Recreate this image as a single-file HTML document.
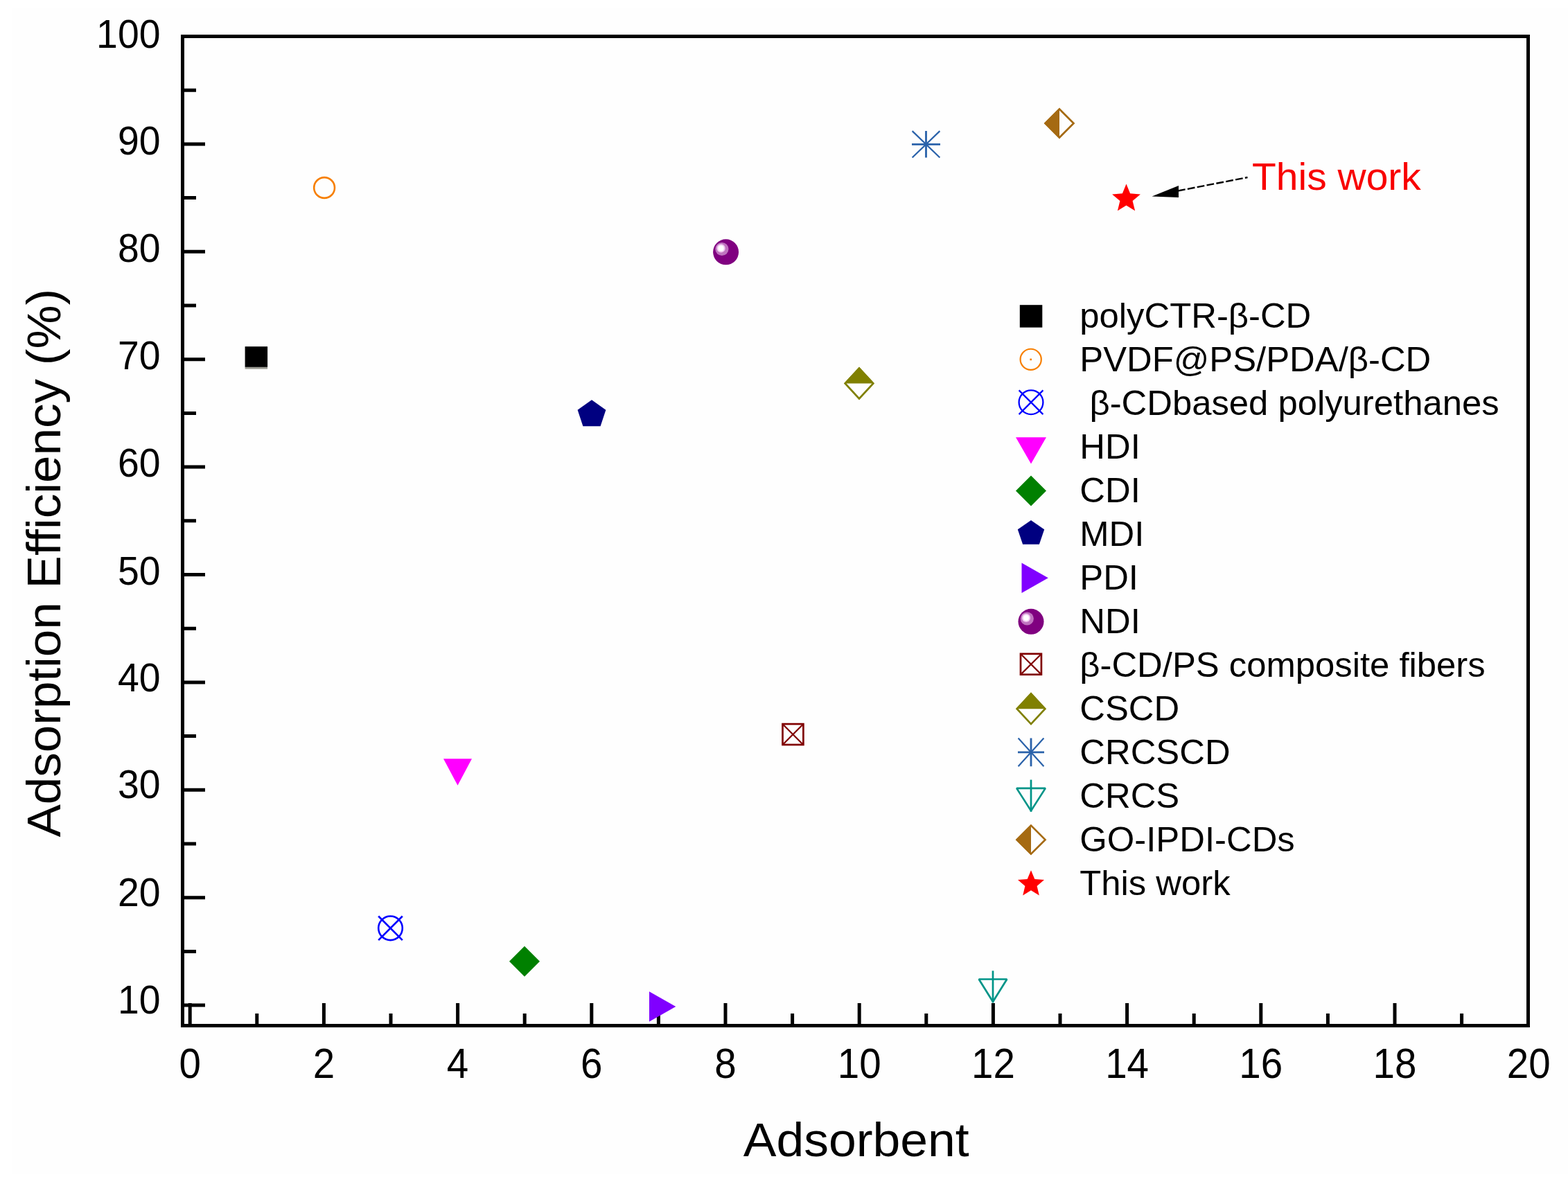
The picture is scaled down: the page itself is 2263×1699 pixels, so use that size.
<!DOCTYPE html><html><head><meta charset="utf-8"><style>html,body{margin:0;padding:0;background:#fff;}svg{display:block;}</style></head><body>
<svg width="2263" height="1699" viewBox="0 0 2263 1699">
<rect x="0" y="0" width="2263" height="1699" fill="#ffffff"/>
<rect x="18" y="11" width="2245" height="1683" fill="#fefefe"/>
<rect x="263.5" y="52.5" width="1942" height="1428" fill="none" stroke="#000" stroke-width="5"/>
<path d="M274.2 1478V1448 M370.8 1478V1463 M467.4 1478V1448 M564.0 1478V1463 M660.6 1478V1448 M757.2 1478V1463 M853.8 1478V1448 M950.4 1478V1463 M1047.0 1478V1448 M1143.6 1478V1463 M1240.2 1478V1448 M1336.8 1478V1463 M1433.4 1478V1448 M1530.0 1478V1463 M1626.6 1478V1448 M1723.2 1478V1463 M1819.8 1478V1448 M1916.4 1478V1463 M2013.0 1478V1448 M2109.6 1478V1463 M266 1451.1H296 M266 1373.4H283 M266 1295.7H296 M266 1218.0H283 M266 1140.3H296 M266 1062.6H283 M266 984.9H296 M266 907.2H283 M266 829.5H296 M266 751.8H283 M266 674.1H296 M266 596.4H283 M266 518.7H296 M266 441.0H283 M266 363.3H296 M266 285.6H283 M266 207.9H296 M266 130.2H283" stroke="#000" stroke-width="5" fill="none"/>
<g font-family="'Liberation Sans', Arial, sans-serif" font-size="58" fill="#000" text-anchor="end">
<text transform="translate(231.5 1462.9) scale(0.955 1)">10</text>
<text transform="translate(231.5 1308.2) scale(0.955 1)">20</text>
<text transform="translate(231.5 1152.3) scale(0.955 1)">30</text>
<text transform="translate(231.5 998.2) scale(0.955 1)">40</text>
<text transform="translate(231.5 843.7) scale(0.955 1)">50</text>
<text transform="translate(231.5 688.1) scale(0.955 1)">60</text>
<text transform="translate(231.5 533.2) scale(0.955 1)">70</text>
<text transform="translate(231.5 378.1) scale(0.955 1)">80</text>
<text transform="translate(231.5 223.2) scale(0.955 1)">90</text>
<text transform="translate(231.5 68.5) scale(0.955 1)">100</text>
</g>
<g font-family="'Liberation Sans', Arial, sans-serif" font-size="60.5" fill="#000" text-anchor="middle">
<text transform="translate(274.2 1555.8) scale(0.935 1)">0</text>
<text transform="translate(467.4 1555.8) scale(0.935 1)">2</text>
<text transform="translate(660.6 1555.8) scale(0.935 1)">4</text>
<text transform="translate(853.8 1555.8) scale(0.935 1)">6</text>
<text transform="translate(1047.0 1555.8) scale(0.935 1)">8</text>
<text transform="translate(1240.2 1555.8) scale(0.935 1)">10</text>
<text transform="translate(1433.4 1555.8) scale(0.935 1)">12</text>
<text transform="translate(1626.6 1555.8) scale(0.935 1)">14</text>
<text transform="translate(1819.8 1555.8) scale(0.935 1)">16</text>
<text transform="translate(2013.0 1555.8) scale(0.935 1)">18</text>
<text transform="translate(2206.2 1555.8) scale(0.935 1)">20</text>
</g>
<text font-family="'Liberation Sans', Arial, sans-serif" font-size="71.5" transform="translate(1235.7 1668.7) scale(1 0.96)" text-anchor="middle">Adsorbent</text>
<text font-family="'Liberation Sans', Arial, sans-serif" font-size="71" transform="translate(86.5 812.7) rotate(-90) scale(1 0.96)" text-anchor="middle">Adsorption Efficiency (%)</text>
<rect x="353.6" y="500.2" width="32.5" height="29.7" fill="#000"/><rect x="353.6" y="529.9" width="32.5" height="2.8" fill="#9a9a92"/>
<circle cx="468.1" cy="271" r="14.9" fill="none" stroke="#f77f00" stroke-width="2.6"/>
<g stroke="#0000ff" stroke-width="2.6" fill="none"><circle cx="563.5" cy="1339.8" r="17.3"/><path d="M546.2 1322.5L580.8 1357.1M580.8 1322.5L546.2 1357.1"/></g>
<path d="M640.0 1095.2H681.0L660.5 1133.8Z" fill="#ff00ff"/>
<path d="M735 1387.7L757 1365.7L779 1387.7L757 1409.7Z" fill="#008000"/>
<polygon points="854.0,577.3 874.4,591.8 866.6,615.2 841.4,615.2 833.6,591.8" fill="#000080"/>
<path d="M937.0 1431.2L975.3 1453L937.0 1474.8Z" fill="#8000ff"/>
<circle cx="1047.6" cy="363.8" r="18.5" fill="#800080"/><circle cx="1041.9" cy="359.5" r="9.6" fill="#bf74bf"/><circle cx="1040.6" cy="358.4" r="6.1" fill="#f0c8f0"/><circle cx="1040.6" cy="358.4" r="4.1" fill="#ffffff"/>
<g stroke="#800000" stroke-width="2.7" fill="none"><rect x="1129.5" y="1045.1" width="29.9" height="29.9"/><path d="M1130.8000000000002 1046.5L1158.0 1073.6999999999998M1158.0 1046.5L1130.8000000000002 1073.6999999999998" stroke-width="2.2"/></g>
<path d="M1218.2 553.5L1240 530.1L1261.8 553.5Z" fill="#808000"/><path d="M1219.7 553.5L1240 531.6L1260.3 553.5L1240 575.4Z" fill="none" stroke="#808000" stroke-width="2.7"/>
<g stroke="#2a62aa" fill="none"><path d="M1316.0 208.3H1357.0M1336.5 189.10000000000002V227.5" stroke-width="2.8"/><path d="M1316.615 189.10000000000002L1356.385 227.5M1356.385 189.10000000000002L1316.615 227.5" stroke-width="2.2"/></g>
<g stroke="#009488" fill="none" stroke-width="2.7"><path d="M1412.75 1413.5H1453.25L1433 1446.0Z" stroke-linejoin="bevel"/><path d="M1433 1401.3V1447.5"/></g>
<path d="M1529 156L1507 178L1529 200Z" fill="#a56a12"/><path d="M1508.5 178L1529 157.5L1549.5 178L1529 198.5Z" fill="none" stroke="#a56a12" stroke-width="2.7"/>
<polygon points="1625.5,265.6 1631.1,279.2 1645.9,280.4 1634.6,290.0 1638.1,304.3 1625.5,296.6 1612.9,304.3 1616.4,290.0 1605.1,280.4 1619.9,279.2" fill="#ff0000"/>
<path d="M1700 275.5L1800.5 256" stroke="#000" stroke-width="2.4" stroke-dasharray="10.8 3.3"/>
<path d="M1662.5 283.5L1701 268L1701 285Z" fill="#000"/>
<text font-family="'Liberation Sans', Arial, sans-serif" font-size="57" fill="#f80000" transform="translate(1807 273.9) scale(1 0.97)">This work</text>
<rect x="1471.8" y="440.2" width="32.5" height="32.5" fill="#000"/>
<text font-family="'Liberation Sans', Arial, sans-serif" font-size="50.8" x="1558.3" y="473.2" xml:space="preserve">polyCTR-β-CD</text>
<circle cx="1487.7" cy="518.87" r="15.1" fill="none" stroke="#f77f00" stroke-width="2.2"/><rect x="1486.4" y="517.6" width="2.6" height="2.6" fill="#f77f00"/>
<text font-family="'Liberation Sans', Arial, sans-serif" font-size="50.8" x="1558.3" y="536.2" xml:space="preserve">PVDF@PS/PDA/β-CD</text>
<g stroke="#0000ff" stroke-width="2.3" fill="none"><circle cx="1488" cy="580.74" r="17.4"/><path d="M1470.6 563.34L1505.4 598.14M1505.4 563.34L1470.6 598.14"/></g>
<text font-family="'Liberation Sans', Arial, sans-serif" font-size="50.8" x="1558.3" y="599.1" xml:space="preserve"> β-CDbased polyurethanes</text>
<path d="M1466.0 631.2099999999999H1510.0L1488 669.5099999999999Z" fill="#ff00ff"/>
<text font-family="'Liberation Sans', Arial, sans-serif" font-size="50.8" x="1558.3" y="662.1" xml:space="preserve">HDI</text>
<path d="M1466 708.38L1488 686.38L1510 708.38L1488 730.38Z" fill="#008000"/>
<text font-family="'Liberation Sans', Arial, sans-serif" font-size="50.8" x="1558.3" y="725.1" xml:space="preserve">CDI</text>
<polygon points="1488.0,751.0 1507.2,764.3 1499.9,785.8 1476.1,785.8 1468.8,764.3" fill="#000080"/>
<text font-family="'Liberation Sans', Arial, sans-serif" font-size="50.8" x="1558.3" y="788.0" xml:space="preserve">MDI</text>
<path d="M1474.5 812.52L1512.8 834.3199999999999L1474.5 856.1199999999999Z" fill="#8000ff"/>
<text font-family="'Liberation Sans', Arial, sans-serif" font-size="50.8" x="1558.3" y="851.0" xml:space="preserve">PDI</text>
<circle cx="1488" cy="897.29" r="18.5" fill="#800080"/><circle cx="1482.3" cy="893.0" r="9.6" fill="#bf74bf"/><circle cx="1481.0" cy="891.9" r="6.1" fill="#f0c8f0"/><circle cx="1481.0" cy="891.9" r="4.1" fill="#ffffff"/>
<text font-family="'Liberation Sans', Arial, sans-serif" font-size="50.8" x="1558.3" y="914.0" xml:space="preserve">NDI</text>
<g stroke="#800000" stroke-width="2.7" fill="none"><rect x="1473.0" y="943.8" width="29.9" height="29.9"/><path d="M1474.4 945.1600000000001L1501.6 972.3599999999999M1501.6 945.1600000000001L1474.4 972.3599999999999" stroke-width="2.2"/></g>
<text font-family="'Liberation Sans', Arial, sans-serif" font-size="50.8" x="1558.3" y="977.0" xml:space="preserve">β-CD/PS composite fibers</text>
<path d="M1466.2 1023.23L1488 999.83L1509.8 1023.23Z" fill="#808000"/><path d="M1467.7 1023.23L1488 1001.33L1508.3 1023.23L1488 1045.13Z" fill="none" stroke="#808000" stroke-width="2.7"/>
<text font-family="'Liberation Sans', Arial, sans-serif" font-size="50.8" x="1558.3" y="1039.9" xml:space="preserve">CSCD</text>
<g stroke="#2a62aa" fill="none"><path d="M1469 1085.9H1507M1488 1065.6000000000001V1106.2" stroke-width="2.8"/><path d="M1469.57 1065.6000000000001L1506.43 1106.2M1506.43 1065.6000000000001L1469.57 1106.2" stroke-width="2.2"/></g>
<text font-family="'Liberation Sans', Arial, sans-serif" font-size="50.8" x="1558.3" y="1102.9" xml:space="preserve">CRCSCD</text>
<g stroke="#009488" fill="none" stroke-width="2.7"><path d="M1467.25 1137.8700000000001H1508.75L1488 1170.3700000000001Z" stroke-linejoin="bevel"/><path d="M1488 1125.5700000000002V1171.8700000000001"/></g>
<text font-family="'Liberation Sans', Arial, sans-serif" font-size="50.8" x="1558.3" y="1165.9" xml:space="preserve">CRCS</text>
<path d="M1488 1190.1399999999999L1466 1212.1399999999999L1488 1234.1399999999999Z" fill="#a56a12"/><path d="M1467.5 1212.1399999999999L1488 1191.6399999999999L1508.5 1212.1399999999999L1488 1232.6399999999999Z" fill="none" stroke="#a56a12" stroke-width="2.7"/>
<text font-family="'Liberation Sans', Arial, sans-serif" font-size="50.8" x="1558.3" y="1228.8" xml:space="preserve">GO-IPDI-CDs</text>
<polygon points="1488.0,1256.3 1493.3,1269.0 1507.0,1270.1 1496.6,1279.1 1499.8,1292.5 1488.0,1285.3 1476.2,1292.5 1479.4,1279.1 1469.0,1270.1 1482.7,1269.0" fill="#ff0000"/>
<text font-family="'Liberation Sans', Arial, sans-serif" font-size="50.8" x="1558.3" y="1291.8" xml:space="preserve">This work</text>
</svg></body></html>
